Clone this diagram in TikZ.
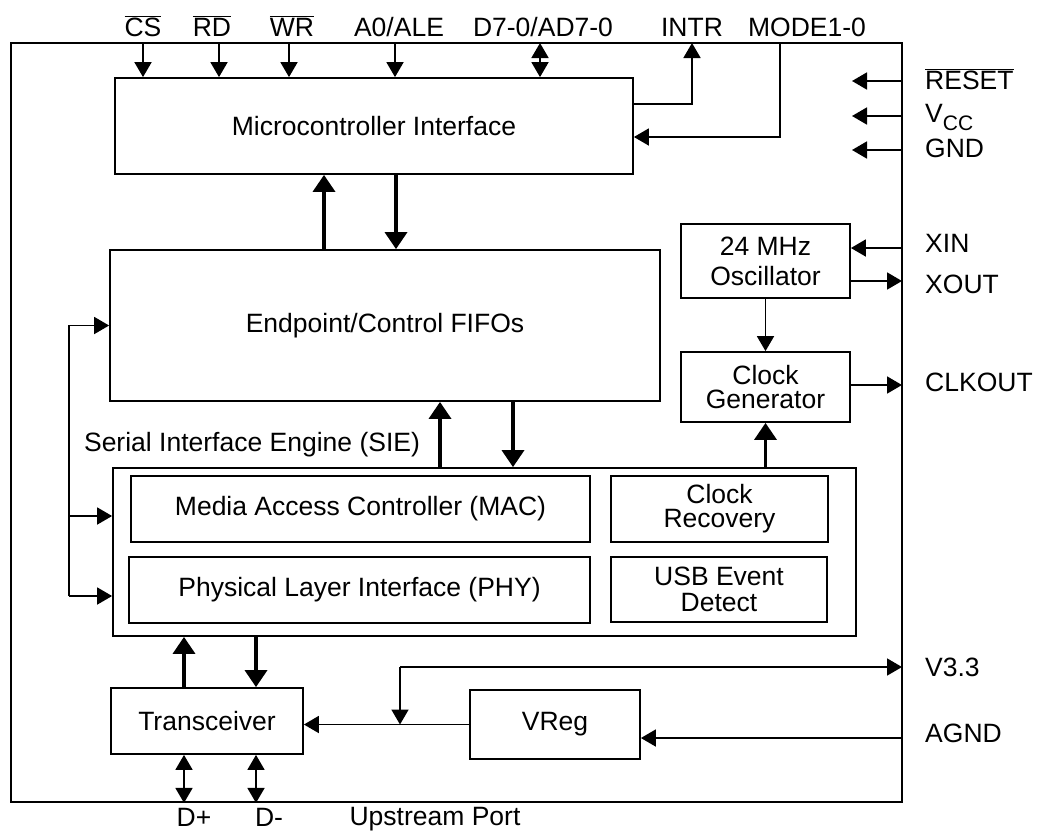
\documentclass[tikz,border=0pt]{standalone}
\usepackage{fontspec}
\setmainfont{Liberation Sans}
\usepackage{tikz}
\usetikzlibrary{arrows.meta,calc}

\begin{document}
\begin{tikzpicture}[x=1pt,y=-1pt,
    font=\fontsize{26.5}{24}\selectfont,
    blk/.style={draw,line width=1.8pt,inner sep=0pt,align=center},
    sig/.style={line width=1.8pt,-{Triangle[length=15pt,width=17pt]}},
    sigboth/.style={line width=1.8pt,{Triangle[length=15pt,width=17pt]}-{Triangle[length=15pt,width=17pt]}},
    bus/.style={line width=3.6pt,-{Triangle[length=17pt,width=22pt]}},
    lbl/.style={inner sep=0pt,anchor=base},
    rlbl/.style={inner sep=0pt,anchor=base west}]

\useasboundingbox (0,0) rectangle (1038,831);

% chip outline
\node[blk,minimum width=891,minimum height=759] (chip) at (456.5,422.5) {};

% blocks
\node[blk,minimum width=518,minimum height=96] (mcu) at (374,126) {Microcontroller Interface};
\node[blk,minimum width=550,minimum height=151] (fifo) at (385,325.5) {Endpoint/Control FIFOs};
\node[blk,minimum width=169,minimum height=74] (osc) at (765.5,261) {24 MHz\\[6pt]Oscillator};
\node[blk,minimum width=169,minimum height=70] (clkgen) at (765.5,387) {Clock\\Generator};
\node[blk,minimum width=743,minimum height=168] (sie) at (484.5,552) {};
\node[blk,minimum width=459,minimum height=66] (mac) at (360.5,509) {Media Access Controller (MAC)};
\node[blk,minimum width=461,minimum height=66] (phy) at (359.5,590) {Physical Layer Interface (PHY)};
\node[blk,minimum width=217,minimum height=66] (clkrec) at (719.5,509) {Clock\\Recovery};
\node[blk,minimum width=216,minimum height=65] (usbdet) at (719,589.5) {USB Event\\[2pt]Detect};
\node[blk,minimum width=192,minimum height=66] (xcvr) at (207,721) {Transceiver};
\node[blk,minimum width=170,minimum height=69] (vreg) at (555,724.5) {VReg};

\node[lbl] (siel) at (252,451) {Serial Interface Engine (SIE)};
\node[lbl] (portl) at (435,825) {Upstream Port};

% top pins
\node[lbl] (csl) at (143,36) {$\overline{\mbox{CS}}$};
\node[lbl] (rdl) at (212,36) {$\overline{\mbox{RD}}$};
\node[lbl] (wrl) at (292,36) {$\overline{\mbox{WR}}$};
\node[lbl] (alel) at (399,36) {A0/ALE};
\node[lbl] (datl) at (543,36) {D7-0/AD7-0};
\node[lbl] (intrl) at (692,36) {INTR};
\node[lbl] (model) at (807,36) {MODE1-0};

\coordinate (csin) at (143,43);
\coordinate (rdin) at (219,43);
\coordinate (wrin) at (289,43);
\coordinate (alein) at (395,43);
\coordinate (datin) at (540,43);
\coordinate (intrin) at (692,43);
\coordinate (modein) at (780,43);

\foreach \p in {csin,rdin,wrin,alein}
    \draw[sig] (\p) -- (\p |- mcu.north);
\draw[sigboth] (datin) -- (datin |- mcu.north);
\draw[sig] ([yshift=22]mcu.east) -| (intrin);
\draw[sig] (modein) |- ([yshift=-11]mcu.east);

% right pins
\node[rlbl] (rstl) at (925,89) {$\overline{\mbox{RESET}}$};
\node[rlbl] (vccl) at (925,122) {V\raisebox{-8pt}{\fontsize{21}{21}\selectfont CC}};
\node[rlbl] (gndl) at (925,157) {GND};
\node[rlbl] (xinl) at (925,252) {XIN};
\node[rlbl] (xoutl) at (925,293) {XOUT};
\node[rlbl] (clkl) at (925,391) {CLKOUT};
\node[rlbl] (v33l) at (925,676) {V3.3};
\node[rlbl] (agndl) at (925,742) {AGND};

\coordinate (rstin) at (902,81);
\coordinate (vccin) at (902,116);
\coordinate (gndin) at (902,150);
\coordinate (xinpin) at (902,248);
\coordinate (xoutpin) at (902,281);
\coordinate (clkpin) at (902,385);
\coordinate (v33pin) at (902,667);
\coordinate (agndpin) at (902,738);

\foreach \p in {rstin,vccin,gndin}
    \draw[sig] (\p) -- ++(-50,0);
\draw[sig] (xinpin) -- (xinpin -| osc.east);
\draw[sig] (osc.east |- xoutpin) -- (xoutpin);
\draw[sig] (clkgen.east |- clkpin) -- (clkpin);

% clock path
\draw[sig] (osc.south) -- (clkgen.north);
\draw[bus] (sie.north -| clkgen) -- (clkgen.south);

% data paths
\coordinate (upA) at (324,0);
\coordinate (dnA) at (396,0);
\coordinate (upB) at (440,0);
\coordinate (dnB) at (513,0);
\coordinate (upC) at (184,0);
\coordinate (dnC) at (256,0);

\draw[bus] (fifo.north -| upA) -- (mcu.south -| upA);
\draw[bus] (mcu.south -| dnA) -- (fifo.north -| dnA);
\draw[bus] (sie.north -| upB) -- (fifo.south -| upB);
\draw[bus] (fifo.south -| dnB) -- (sie.north -| dnB);
\draw[bus] (xcvr.north -| upC) -- (sie.south -| upC);
\draw[bus] (sie.south -| dnC) -- (xcvr.north -| dnC);

% upstream port
\draw[sigboth] (xcvr.south -| upC) -- (chip.south -| upC);
\draw[sigboth] (xcvr.south -| dnC) -- (chip.south -| dnC);
\node[lbl] (dpl) at (194,826) {D+};
\node[lbl] (dml) at (269,826) {D-};

% left control bus
\coordinate (busA) at (69,516);
\coordinate (busB) at (69,596);
\draw[sig] (busB) |- (fifo.west);
\draw[sig] (busA) -- (busA -| sie.west);
\draw[sig] (busB) -- (busB -| sie.west);

% regulator
\coordinate (tap) at (400,667);
\draw[sig] (vreg.west) -- (vreg.west -| xcvr.east);
\draw[sig] (tap) -- (tap |- vreg.west);
\draw[sig] (tap) -- (v33pin);
\draw[sig] (agndpin) -- (agndpin -| vreg.east);

\end{tikzpicture}
\end{document}
